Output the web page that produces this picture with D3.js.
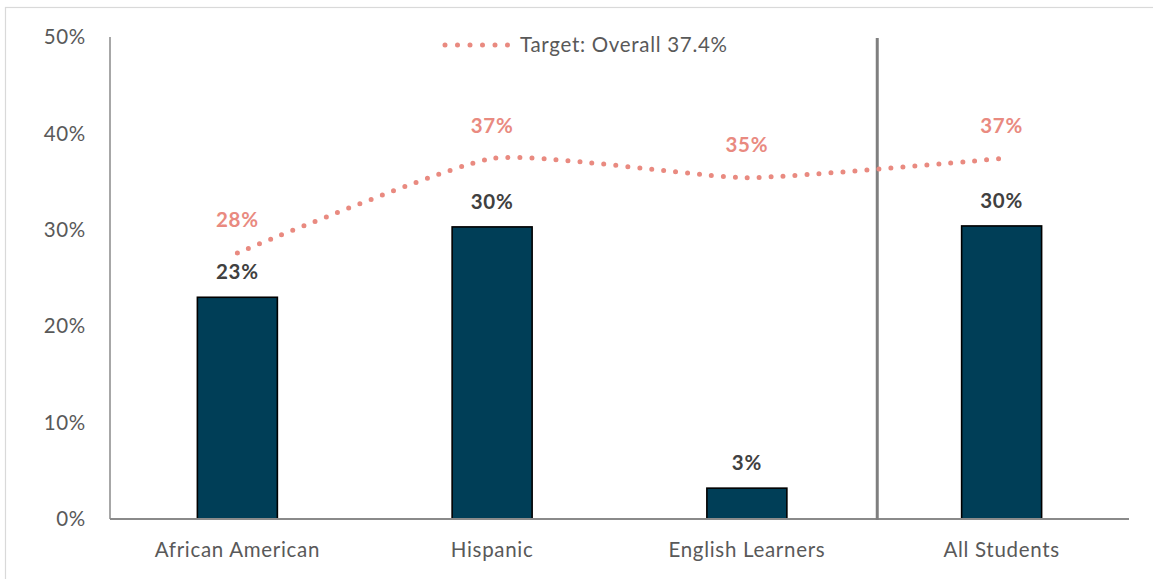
<!DOCTYPE html>
<html>
<head>
<meta charset="utf-8">
<script src="https://cdn.jsdelivr.net/npm/d3@7/dist/d3.min.js"></script>
<style>
  html, body { margin: 0; padding: 0; background: #fff; }
  svg { display: block; }
  text { font-family: Lato, "Open Sans", sans-serif; letter-spacing: 0.7px; }
</style>
</head>
<body>
<svg id="chart" width="1153" height="579"></svg>
<script>
// Student groups and their rates (percent)
const categories = ["African American", "Hispanic", "English Learners", "All Students"];
const actualRates = [23.0, 30.3, 3.2, 30.4];
const targetRates = [27.6, 37.4, 35.4, 37.4];
const yTicks = [0, 10, 20, 30, 40, 50];
const legendLabel = "Target: Overall 37.4%";

const svg = d3.select("#chart");
const W = 1153, H = 579;
const margin = { left: 110, right: 24, top: 37, bottom: 59 };
const fontSize = 20.5;

const barColor = "#003e57";
const targetColor = "#e98a80";
const axisColor = "#8a8a8a";
const textColor = "#595959";

// Chart-area frame
svg.append("rect")
  .attr("x", 5.5).attr("y", 7.5)
  .attr("width", W + 10).attr("height", H + 10)
  .attr("fill", "none").attr("stroke", "#d9d9d9").attr("stroke-width", 1.2);

const x = d3.scaleBand()
  .domain(categories)
  .range([margin.left, W - margin.right])
  .padding(0);

const y = d3.scaleLinear()
  .domain([0, 50])
  .range([H - margin.bottom - 1, margin.top]);

const barW = x.bandwidth() * 0.314;
const cx = d => x(d) + x.bandwidth() / 2;

// Y tick labels
svg.append("g")
  .selectAll("text")
  .data(yTicks)
  .join("text")
  .attr("x", margin.left - 24)
  .attr("y", d => y(d))
  .attr("dy", "0.35em")
  .attr("text-anchor", "end")
  .attr("fill", textColor)
  .attr("font-size", fontSize)
  .text(d => d + "%");

// X category labels
svg.append("g")
  .selectAll("text")
  .data(categories)
  .join("text")
  .attr("x", d => cx(d))
  .attr("y", y(0) + 31)
  .attr("dy", "0.35em")
  .attr("text-anchor", "middle")
  .attr("fill", textColor)
  .attr("font-size", fontSize)
  .text(d => d);

// Bars
svg.append("g")
  .selectAll("rect")
  .data(categories)
  .join("rect")
  .attr("x", d => cx(d) - barW / 2)
  .attr("y", (d, i) => y(actualRates[i]))
  .attr("width", barW)
  .attr("height", (d, i) => y(0) - y(actualRates[i]))
  .attr("fill", barColor)
  .attr("stroke", "#000")
  .attr("stroke-width", 1.6);

// Axes lines
svg.append("line")
  .attr("x1", margin.left).attr("x2", margin.left)
  .attr("y1", y(50)).attr("y2", y(0))
  .attr("stroke", axisColor).attr("stroke-width", 1.5);
svg.append("line")
  .attr("x1", margin.left).attr("x2", W - margin.right)
  .attr("y1", y(0)).attr("y2", y(0))
  .attr("stroke", axisColor).attr("stroke-width", 2);

// Divider between subgroups and the overall group
const divX = x(categories[3]) + 3;
svg.append("line")
  .attr("x1", divX).attr("x2", divX)
  .attr("y1", y(50) + 1).attr("y2", y(0) + 1)
  .attr("stroke", "#7f7f7f").attr("stroke-width", 3);

// Target line (smoothed, dotted)
const line = d3.line()
  .x((d, i) => cx(categories[i]))
  .y(d => y(d))
  .curve(d3.curveCardinal.tension(0.5));

svg.append("path")
  .datum(targetRates)
  .attr("d", line)
  .attr("fill", "none")
  .attr("stroke", targetColor)
  .attr("stroke-width", 5)
  .attr("stroke-linecap", "round")
  .attr("stroke-dasharray", "0 12");

// Bar value labels
svg.append("g")
  .selectAll("text")
  .data(categories)
  .join("text")
  .attr("x", d => cx(d))
  .attr("y", (d, i) => y(actualRates[i]) - 25)
  .attr("dy", "0.35em")
  .attr("text-anchor", "middle")
  .attr("fill", "#404040")
  .attr("font-size", fontSize)
  .attr("font-weight", "bold")
  .text((d, i) => Math.round(actualRates[i]) + "%");

// Target value labels
svg.append("g")
  .selectAll("text")
  .data(categories)
  .join("text")
  .attr("x", d => cx(d))
  .attr("y", (d, i) => y(targetRates[i]) - 33)
  .attr("dy", "0.35em")
  .attr("text-anchor", "middle")
  .attr("fill", targetColor)
  .attr("font-size", fontSize)
  .attr("font-weight", "bold")
  .text((d, i) => Math.round(targetRates[i]) + "%");

// Legend
const legY = 45;
svg.append("line")
  .attr("x1", 445).attr("x2", 508)
  .attr("y1", legY).attr("y2", legY)
  .attr("stroke", targetColor)
  .attr("stroke-width", 5)
  .attr("stroke-linecap", "round")
  .attr("stroke-dasharray", "0 12.5");
svg.append("text")
  .attr("x", 520).attr("y", legY)
  .attr("dy", "0.35em")
  .attr("fill", textColor)
  .attr("font-size", fontSize)
  .text(legendLabel);
</script>
</body>
</html>
